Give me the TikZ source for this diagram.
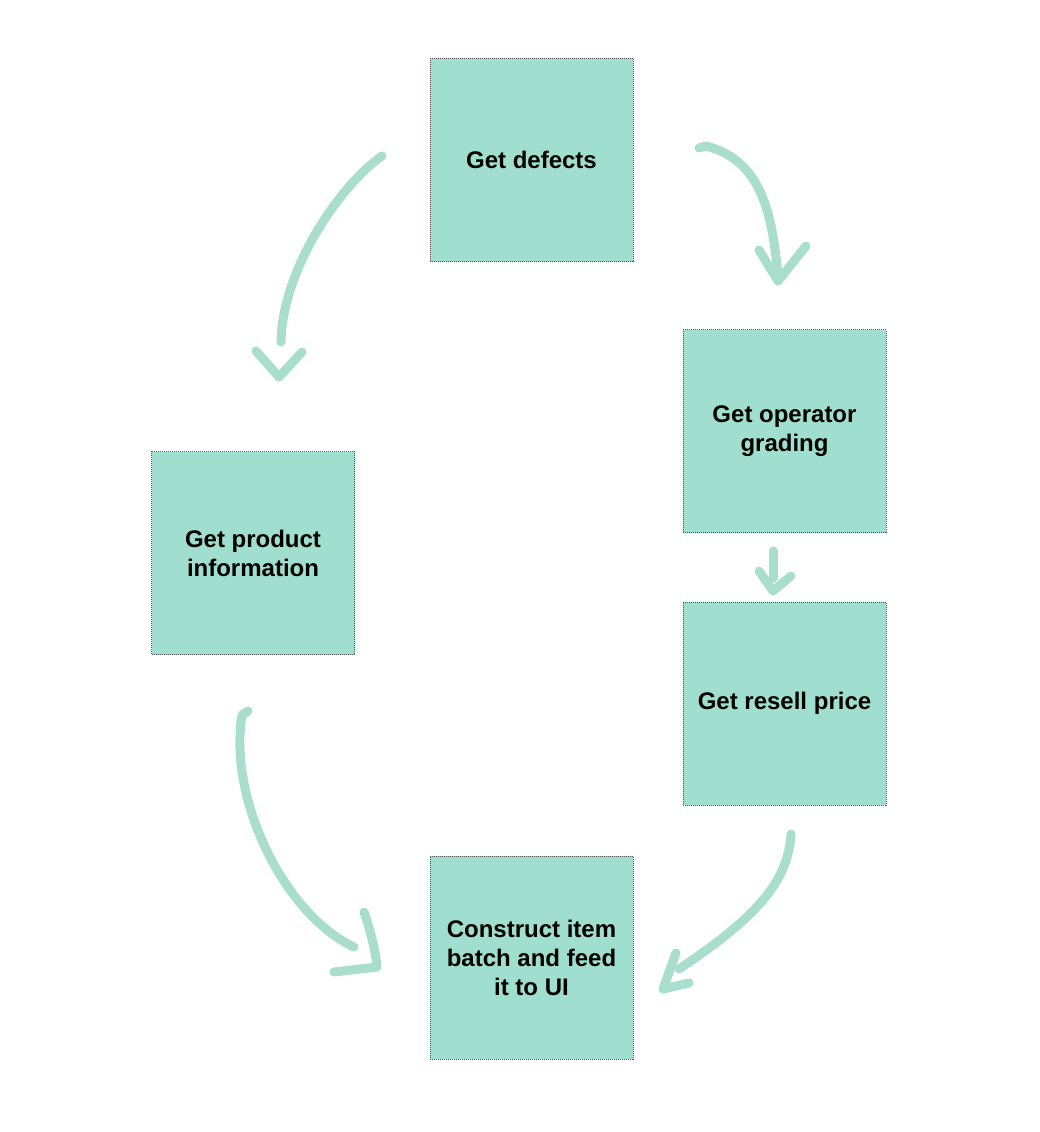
\documentclass[tikz,border=0pt]{standalone}
\usepackage{fontspec}
\setmainfont{Liberation Sans}
\definecolor{boxfill}{HTML}{A0DFCF}
\definecolor{arrowc}{HTML}{A9DDCC}
\definecolor{boxline}{HTML}{555555}
\begin{document}
\begin{tikzpicture}[x=1pt,y=-1pt,
  stepbox/.style={draw=boxline, line width=0.9pt, dash pattern=on 1pt off 1pt, fill=boxfill,
    minimum width=203pt, minimum height=203pt, inner sep=0pt, align=center,
    font=\fontsize{24}{29}\selectfont\bfseries},
  sketch/.style={draw=arrowc, line width=9pt, line cap=round, line join=round}]
\useasboundingbox (0,0) rectangle (1040,1132);
\node[stepbox] (defects) at (531.5,160) {Get defects};
\node[stepbox] (grading) at (784.5,431) {Get operator\\grading};
\node[stepbox] (resell) at (784.5,703.5) {Get resell price};
\node[stepbox] (product) at (253,553) {Get product\\information};
\node[stepbox] (construct) at (531.5,957.5) {Construct item\\batch and feed\\it to UI};
% arrow defects -> product
\coordinate (a1s) at (382,156);
\coordinate (a1e) at (281,342);
\coordinate (a1t) at (279,377);
\draw[sketch] (a1s) .. controls (340,185) and (282,270) .. (a1e);
\draw[sketch] (256,351) -- (a1t) -- (302,352);
% arrow defects -> grading
\coordinate (a2s) at (699,148);
\coordinate (a2e) at (778,276);
\coordinate (a2t) at (778,281);
\draw[sketch] (a2s) -- (706,146) .. controls (760,160) and (772,210) .. (a2e);
\draw[sketch] (759,250) -- (a2t) -- (806,246);
% arrow grading -> resell
\coordinate (a3s) at (773,551);
\coordinate (a3t) at (773,591);
\draw[sketch] (a3s) -- (773,578);
\draw[sketch] (759,571) -- (a3t) -- (791,576);
% arrow resell -> construct
\coordinate (a4s) at (791,834);
\coordinate (a4e) at (679,969);
\coordinate (a4t) at (663,989);
\draw[sketch] (a4s) .. controls (788,880) and (760,915) .. (a4e);
\draw[sketch] (676,953) -- (a4t) -- (689,983);
% arrow product -> construct
\coordinate (a5s) at (248,711);
\coordinate (a5e) at (354,947);
\coordinate (a5t) at (377,967);
\draw[sketch] (a5s) -- (242,715) .. controls (228,800) and (285,915) .. (a5e);
\draw[sketch] (364,912) .. controls (372,935) and (376,955) .. (a5t) -- (334,972);
\end{tikzpicture}
\end{document}
